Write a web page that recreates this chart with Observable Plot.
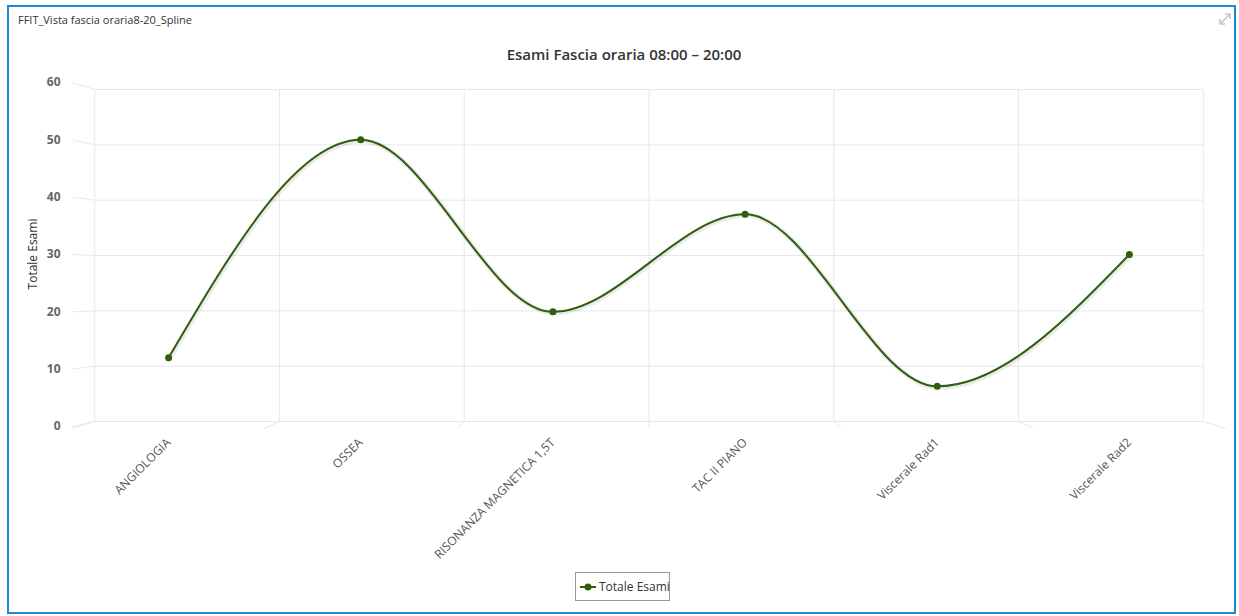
<!DOCTYPE html>
<html>
<head>
<meta charset="utf-8">
<script src="https://cdn.jsdelivr.net/npm/d3@7"></script>
<script src="https://cdn.jsdelivr.net/npm/@observablehq/plot@0.6"></script>
<style>
  html, body { margin: 0; padding: 0; background: #fff; }
  body { width: 1239px; height: 616px; position: relative; overflow: hidden; font-family: "Open Sans", sans-serif; }
  #frame { position: absolute; left: 7px; top: 5px; width: 1225px; height: 605px; border: 2px solid #1e8ad6; }
  #panelTitle { position: absolute; left: 18px; top: 12px; font-size: 11px; color: #333; }
  #expand { position: absolute; left: 1219px; top: 13px; }
  #title { position: absolute; left: 0; width: 1248px; top: 44px; text-align: center; font-family: "Open Sans", sans-serif; font-size: 15px; font-weight: 600; color: #333; }
  #chart { position: absolute; left: 0; top: 70px; }
  #ytitle { position: absolute; left: 32px; top: 254px; transform: translate(-50%, -50%) rotate(-90deg); font-size: 12px; color: #333; white-space: nowrap; }
  #legend { position: absolute; left: 575px; top: 572px; width: 93px; height: 27px; border: 1px solid #999; background: #fff; display: flex; align-items: center; font-size: 12px; color: #333; white-space: nowrap; }
  #legend svg { margin-left: 4px; margin-right: 3px; flex: none; }
</style>
</head>
<body>
<div id="frame"></div>
<div id="panelTitle">FFIT_Vista fascia oraria8-20_Spline</div>
<svg id="expand" width="12" height="12" viewBox="0 0 12 12">
  <path d="M1 11 L11 1 M6 1 H11 V6 M1 6 V11 H6" fill="none" stroke="#c8c8c8" stroke-width="1.6"/>
</svg>
<div id="title">Esami Fascia oraria 08:00 – 20:00</div>
<div id="chart"></div>
<div id="ytitle">Totale Esami</div>
<div id="legend"></div>
<script>
// ---- data ----
const categories = ["ANGIOLOGIA", "OSSEA", "RISONANZA MAGNETICA 1,5T", "TAC II PIANO", "Viscerale Rad1", "Viscerale Rad2"];
const values = [12, 50, 20, 37, 7, 30];
const yTicks = [0, 10, 20, 30, 40, 50, 60];
const seriesName = "Totale Esami";

// ---- style ----
const lineColor = "#2f5e0c";
const gridColor = "#e8e8e8";

const data = categories.map((c, i) => ({i, c, v: values[i]}));
const boundaries = d3.range(categories.length + 1).map(i => i - 0.5);

// pseudo-3D back plane (Highcharts 3D look): shrink toward a vanishing point
const cx = (categories.length - 1) / 2, cy = 24.9, kx = 0.9615, ky = 0.965;
const bx = x => cx + (x - cx) * kx;
const by = y => cy + (y - cy) * ky;
const xMin = -0.5, xMax = categories.length - 0.5, yMin = 0, yMax = 60;

const chart = Plot.plot({
  width: 1239,
  height: 480,
  marginLeft: 72,
  marginRight: 14,
  marginTop: 12,
  marginBottom: 124,
  style: {fontFamily: "Open Sans, sans-serif", background: "transparent", overflow: "visible"},
  x: {domain: [xMin, xMax], axis: null},
  y: {domain: [yMin, yMax], axis: null},
  marks: [
    // back horizontal grid
    Plot.link(yTicks, {x1: () => bx(xMin), x2: () => bx(xMax), y1: t => by(t), y2: t => by(t), stroke: gridColor, strokeWidth: 1}),
    // y tick connectors front -> back
    Plot.link(yTicks, {x1: () => xMin, y1: t => t, x2: () => bx(xMin), y2: t => by(t), stroke: gridColor, strokeWidth: 1}),
    // back vertical grid
    Plot.link(boundaries, {x1: b => bx(b), x2: b => bx(b), y1: () => by(yMin), y2: () => by(yMax), stroke: gridColor, strokeWidth: 1}),
    // floor connectors back -> front
    Plot.link(boundaries, {x1: b => bx(b), y1: () => by(yMin), x2: b => b, y2: () => yMin - 0.3, stroke: gridColor, strokeWidth: 1}),
    // y axis labels
    Plot.axisY(yTicks, {tickSize: 0, tickPadding: 12, fontSize: 12, fontWeight: "bold", fill: "#666", label: null}),
    // x axis labels
    Plot.axisX(d3.range(categories.length), {tickFormat: i => categories[i], tickRotate: -45, tickSize: 0, tickPadding: 14, fontSize: 12, fill: "#555", label: null}),
    // line shadow
    Plot.line(data, {x: "i", y: "v", curve: "monotone-x", stroke: "#000", strokeOpacity: 0.08, strokeWidth: 5, dx: 1, dy: 1}),
    // spline
    Plot.line(data, {x: "i", y: "v", curve: "monotone-x", stroke: lineColor, strokeWidth: 2}),
    Plot.dot(data, {x: "i", y: "v", r: 3.5, fill: lineColor, stroke: "none"})
  ]
});
document.getElementById("chart").appendChild(chart);

// legend
const leg = document.getElementById("legend");
leg.innerHTML = `<svg width="16" height="10"><line x1="0" y1="5" x2="16" y2="5" stroke="${lineColor}" stroke-width="2"/><circle cx="8" cy="5" r="3.5" fill="${lineColor}"/></svg><span>${seriesName}</span>`;
</script>
</body>
</html>
